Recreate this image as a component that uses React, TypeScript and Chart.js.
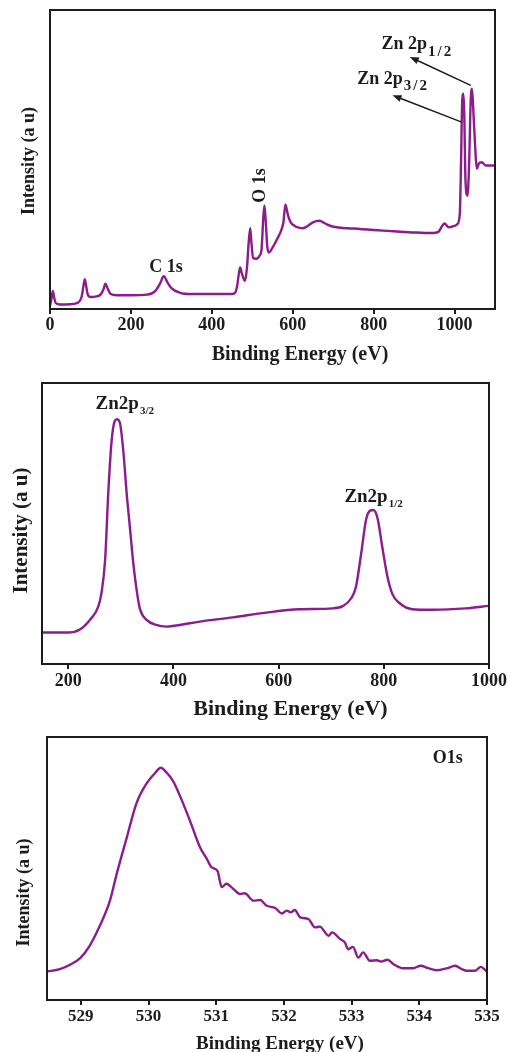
import React, { useEffect, useRef } from "react";
import { Chart, registerables } from "chart.js";

Chart.register(...registerables);

// ---------- data ----------
// Panel 1: XPS survey spectrum
const SURVEY_ENERGY = [
  0, 3, 7, 10, 14, 25, 50, 70, 78, 83, 86, 89, 93, 100, 115, 125, 132, 137, 142, 150, 165, 200, 240, 260, 272, 281,
  290, 300, 320, 350, 400, 450, 458, 463, 467, 470, 474, 479, 482, 487, 491, 495, 498, 502, 510, 518, 523, 527, 530,
  533, 537, 541, 550, 560, 572, 577, 582, 588, 595, 605, 615, 624, 635, 650, 666, 680, 698, 750, 800, 850, 900, 945,
  960, 970, 975, 986, 1000, 1007, 1013, 1016, 1019, 1022, 1024, 1027, 1032, 1036, 1040, 1043, 1046, 1051, 1055,
  1060, 1067, 1077, 1100,
];
const SURVEY_INTENSITY = [
  1.0, 3.0, 6.0, 4.0, 2.0, 1.5, 1.6, 2.2, 4.0, 8.0, 10.0, 8.0, 5.0, 4.0, 4.2, 4.8, 6.5, 8.5, 7.0, 5.0, 4.6, 4.6, 4.8,
  6.0, 8.5, 11.0, 9.0, 7.0, 5.5, 5.0, 5.0, 5.0, 5.5, 8.0, 12.0, 13.9, 12.0, 10.0, 9.4, 14.0, 22.0, 27.0, 22.0, 17.0,
  16.8, 17.8, 20.0, 30.0, 34.6, 30.0, 21.0, 18.9, 20.5, 23.0, 26.5, 29.0, 35.0, 31.5, 29.0, 27.8, 27.2, 27.0, 27.6,
  29.0, 29.5, 28.6, 27.6, 26.9, 26.4, 26.0, 25.6, 25.4, 25.8, 27.9, 28.6, 27.3, 27.8, 28.4, 31.8, 48.6, 69.8, 72.0,
  65.3, 43.0, 37.9, 48.6, 69.8, 73.7, 67.6, 54.1, 46.9, 48.6, 49.1, 48.0, 48.0,
];
const SURVEY_TICKS = [0, 200, 400, 600, 800, 1000];

// Panel 2: Zn 2p
const ZN_ENERGY = [
  150, 200, 222, 241, 257, 263, 270, 276, 282, 288, 293, 299, 305, 311, 317, 323, 330, 336, 349, 367, 387, 412, 450,
  513, 576, 639, 703, 722, 738, 747, 757, 766, 774, 780, 788, 797, 807, 817, 829, 854, 892, 956, 1000,
];
const ZN_INTENSITY = [
  11.2, 11.2, 12.3, 15.7, 20.4, 25.2, 37.0, 60.8, 78.6, 86.3, 87.1, 85.0, 75.0, 60.7, 48.9, 37.0, 26.3, 19.8, 15.7,
  13.9, 13.3, 13.9, 15.1, 16.6, 18.3, 19.5, 19.8, 20.6, 23.4, 27.5, 39.4, 51.2, 54.6, 54.8, 51.9, 41.7, 31.0, 24.6,
  21.8, 19.5, 19.3, 19.8, 20.7,
];
const ZN_TICKS = [200, 400, 600, 800, 1000];

// Panel 3: O 1s
const O1S_ENERGY = [
  528.5, 528.69, 528.84, 528.99, 529.13, 529.28, 529.43, 529.53, 529.68, 529.82, 529.97, 530.1, 530.18, 530.27,
  530.37, 530.49, 530.61, 530.76, 530.86, 530.93, 531.02, 531.08, 531.15, 531.25, 531.35, 531.42, 531.55, 531.65,
  531.74, 531.87, 531.97, 532.04, 532.1, 532.16, 532.24, 532.36, 532.46, 532.53, 532.66, 532.71, 532.83, 532.9,
  532.95, 533.02, 533.1, 533.17, 533.27, 533.37, 533.44, 533.53, 533.62, 533.76, 533.91, 534.02, 534.13, 534.26,
  534.4, 534.53, 534.63, 534.7, 534.82, 534.91, 534.96, 535.0,
];
const O1S_INTENSITY = [
  10.8, 11.7, 13.4, 15.9, 20.6, 28.2, 37.8, 48.0, 61.9, 74.7, 82.3, 86.4, 88.3, 86.4, 82.9, 76.0, 68.3, 58.1, 53.7,
  50.5, 49.0, 42.9, 44.2, 42.3, 40.3, 40.6, 37.8, 38.0, 35.9, 35.0, 32.9, 34.0, 33.3, 34.2, 31.4, 30.8, 27.6, 27.9,
  24.4, 25.7, 23.2, 21.9, 19.3, 20.2, 16.1, 18.1, 14.9, 15.1, 14.6, 15.3, 13.6, 12.1, 12.1, 13.0, 12.1, 11.3, 12.0,
  13.0, 11.7, 11.1, 11.1, 12.6, 11.7, 10.8,
];
const O1S_TICKS = [529, 530, 531, 532, 533, 534, 535];

// ---------- styles ----------
const FONT = '"Liberation Serif", "Times New Roman", serif';
const LINE_COLOR = "#8b1c8c";
const INK = "#1c1c1c";
const X_TITLE = "Binding Energy (eV)";
const Y_TITLE = "Intensity (a u)";

type Txt = {
  text: string;
  x: number;
  y: number;
  size: number;
  data?: boolean; // x/y in data units
  rotate?: boolean;
  align?: CanvasTextAlign;
  baseline?: CanvasTextBaseline;
  sub?: string;
  subSize?: number;
  subDy?: number;
  subSpacing?: number;
};
type Arrow = { x1: number; y1: number; x2: number; y2: number };

type Panel = {
  top: number;
  height: number;
  xs: number[];
  ys: number[];
  ticks: number[];
  xMin: number;
  xMax: number;
  padTop: number;
  padLeft: number;
  padRight: number;
  axisHeight: number;
  tickSize: number;
  tickPad: number;
  texts: Txt[];
  arrows: Arrow[];
};

const PANELS: Panel[] = [
  {
    top: 0,
    height: 365,
    xs: SURVEY_ENERGY,
    ys: SURVEY_INTENSITY,
    ticks: SURVEY_TICKS,
    xMin: 0,
    xMax: 1100,
    padTop: 10,
    padLeft: 50,
    padRight: 14,
    axisHeight: 56,
    tickSize: 18,
    tickPad: 1,
    texts: [
      { text: X_TITLE, x: 300, y: 354.5, size: 20, align: "center", baseline: "middle" },
      { text: Y_TITLE, x: 29.5, y: 161, size: 18, rotate: true, align: "center", baseline: "middle" },
      { text: "C 1s", x: 287, y: 12.5, size: 18, data: true, align: "center" },
      { text: "O 1s", x: 520, y: 41.3, size: 18, data: true, rotate: true, align: "center", baseline: "middle" },
      { text: "Zn 2p", sub: "1/2", x: 819.5, y: 86.8, size: 18, subSize: 15, subDy: 6.5, subSpacing: 2, data: true, align: "left" },
      { text: "Zn 2p", sub: "3/2", x: 759.6, y: 75.4, size: 18, subSize: 15, subDy: 6.5, subSpacing: 2, data: true, align: "left" },
    ],
    arrows: [
      { x1: 1040, y1: 74.8, x2: 889.5, y2: 84.3 },
      { x1: 1017.8, y1: 62.5, x2: 846.6, y2: 71.5 },
    ],
  },
  {
    top: 365,
    height: 360,
    xs: ZN_ENERGY,
    ys: ZN_INTENSITY,
    ticks: ZN_TICKS,
    xMin: 150,
    xMax: 1000,
    padTop: 18,
    padLeft: 42,
    padRight: 19,
    axisHeight: 61,
    tickSize: 18,
    tickPad: 2,
    texts: [
      { text: X_TITLE, x: 290.5, y: 344.7, size: 22, align: "center", baseline: "middle" },
      { text: Y_TITLE, x: 21.3, y: 165.5, size: 21, rotate: true, align: "center", baseline: "middle" },
      { text: "Zn2p", sub: "3/2", x: 251.9, y: 90.6, size: 19, subSize: 11, subDy: 5, data: true, align: "left" },
      { text: "Zn2p", sub: "1/2", x: 725, y: 57.8, size: 19, subSize: 11, subDy: 5, data: true, align: "left" },
    ],
    arrows: [],
  },
  {
    top: 725,
    height: 327,
    xs: O1S_ENERGY,
    ys: O1S_INTENSITY,
    ticks: O1S_TICKS,
    xMin: 528.5,
    xMax: 535,
    padTop: 12,
    padLeft: 47,
    padRight: 22,
    axisHeight: 52,
    tickSize: 17,
    tickPad: 1,
    texts: [
      { text: X_TITLE, x: 280, y: 319, size: 19, align: "center", baseline: "middle" },
      { text: Y_TITLE, x: 24.7, y: 167.5, size: 18, rotate: true, align: "center", baseline: "middle" },
      { text: "O1s", x: 534.2, y: 90.2, size: 18, data: true, align: "left" },
    ],
    arrows: [],
  },
];

function makeOverlay(texts: Txt[], arrows: Arrow[]) {
  return {
    id: "overlay",
    afterDraw(chart: any) {
      const ctx: CanvasRenderingContext2D = chart.ctx;
      const area = chart.chartArea;
      const sx = chart.scales.x;
      const sy = chart.scales.y;
      ctx.save();
      // frame
      ctx.strokeStyle = INK;
      ctx.lineWidth = 2;
      ctx.strokeRect(area.left, area.top, area.right - area.left, area.bottom - area.top);

      // arrows
      ctx.lineWidth = 1.4;
      ctx.fillStyle = INK;
      for (const a of arrows) {
        const x1 = sx.getPixelForValue(a.x1);
        const y1 = sy.getPixelForValue(a.y1);
        const x2 = sx.getPixelForValue(a.x2);
        const y2 = sy.getPixelForValue(a.y2);
        const ang = Math.atan2(y2 - y1, x2 - x1);
        const len = 9;
        const hw = 3.5;
        const bx = x2 - Math.cos(ang) * len;
        const by = y2 - Math.sin(ang) * len;
        ctx.beginPath();
        ctx.moveTo(x1, y1);
        ctx.lineTo(bx, by);
        ctx.stroke();
        ctx.beginPath();
        ctx.moveTo(x2, y2);
        ctx.lineTo(bx + Math.sin(ang) * hw, by - Math.cos(ang) * hw);
        ctx.lineTo(bx - Math.sin(ang) * hw, by + Math.cos(ang) * hw);
        ctx.closePath();
        ctx.fill();
      }

      // texts
      for (const t of texts) {
        const px = t.data ? sx.getPixelForValue(t.x) : t.x;
        const py = t.data ? sy.getPixelForValue(t.y) : t.y;
        ctx.font = `bold ${t.size}px ${FONT}`;
        ctx.textAlign = t.align ?? "left";
        ctx.textBaseline = t.baseline ?? "alphabetic";
        if (t.rotate) {
          ctx.save();
          ctx.translate(px, py);
          ctx.rotate(-Math.PI / 2);
          ctx.fillText(t.text, 0, 0);
          ctx.restore();
        } else {
          ctx.fillText(t.text, px, py);
          if (t.sub) {
            const w = ctx.measureText(t.text).width;
            ctx.font = `bold ${t.subSize ?? 10}px ${FONT}`;
            (ctx as any).letterSpacing = `${t.subSpacing ?? 0}px`;
            ctx.textAlign = "left";
            ctx.fillText(t.sub, px + w + 1, py + (t.subDy ?? 4));
            (ctx as any).letterSpacing = "0px";
          }
        }
      }
      ctx.restore();
    },
  };
}

function PanelChart({ p }: { p: Panel }) {
  const ref = useRef<HTMLCanvasElement | null>(null);
  useEffect(() => {
    if (!ref.current) return;
    const chart = new Chart(ref.current, {
      type: "line",
      data: {
        datasets: [
          {
            data: p.xs.map((x, i) => ({ x, y: p.ys[i] })),
            borderColor: LINE_COLOR,
            borderWidth: 2.4,
            pointRadius: 0,
            fill: false,
            cubicInterpolationMode: "monotone",
          },
        ],
      },
      options: {
        responsive: false,
        animation: false,
        devicePixelRatio: 1,
        events: [],
        layout: {
          autoPadding: false,
          padding: { top: p.padTop, left: p.padLeft, right: p.padRight, bottom: 0 },
        },
        plugins: { legend: { display: false }, tooltip: { enabled: false } },
        scales: {
          x: {
            type: "linear",
            min: p.xMin,
            max: p.xMax,
            afterBuildTicks: (s: any) => {
              s.ticks = p.ticks.map((v) => ({ value: v }));
            },
            afterFit: (s: any) => {
              s.height = p.axisHeight;
            },
            grid: {
              display: true,
              drawOnChartArea: false,
              drawTicks: true,
              tickLength: 5,
              color: INK,
              lineWidth: 2,
            },
            border: { display: false },
            ticks: {
              autoSkip: false,
              maxRotation: 0,
              padding: p.tickPad,
              color: INK,
              font: { family: FONT, size: p.tickSize, weight: "bold" },
              callback: (v: any) => String(v),
            },
          },
          y: { display: false, min: 0, max: 100 },
        },
      },
      plugins: [makeOverlay(p.texts, p.arrows)],
    } as any);
    return () => chart.destroy();
  }, [p]);
  return (
    <canvas
      ref={ref}
      width={509}
      height={p.height}
      style={{ position: "absolute", left: 0, top: p.top, width: 509, height: p.height, display: "block" }}
    />
  );
}

export default function App() {
  return (
    <div style={{ position: "absolute", left: 0, top: 0, width: 509, height: 1052, background: "#fff", overflow: "hidden" }}>
      {PANELS.map((p, i) => (
        <PanelChart key={i} p={p} />
      ))}
    </div>
  );
}
